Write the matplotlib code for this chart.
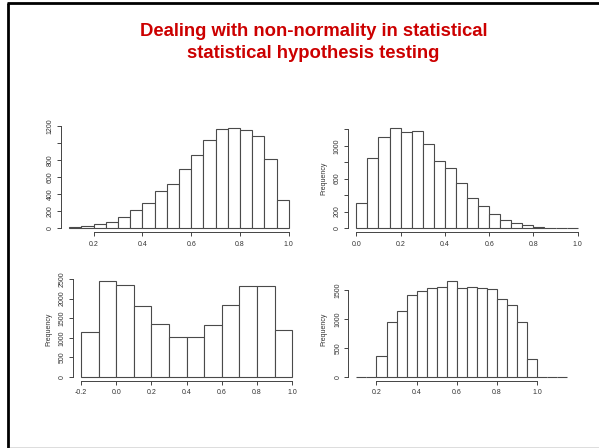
import numpy as np
import matplotlib
matplotlib.use("Agg")
import matplotlib.pyplot as plt
from matplotlib.lines import Line2D

plt.rcParams['font.family'] = ['Liberation Sans', 'DejaVu Sans']

# ---------------- data ----------------
title_lines = ["Dealing with non-normality in statistical",
               "statistical hypothesis testing"]

# Panel 1 (top-left): left-skewed
edges1 = np.round(np.arange(0.10, 1.0001, 0.05), 2)
counts1 = [8, 20, 43, 75, 130, 213, 300, 442, 525, 699, 864, 1038,
           1164, 1176, 1156, 1081, 809, 335]

# Panel 2 (top-right): right-skewed
edges2 = np.round(np.arange(0.0, 1.0001, 0.05), 2)
counts2 = [309, 846, 1106, 1211, 1171, 1175, 1024, 817, 736, 545, 370,
           272, 175, 98, 61, 33, 8, 4, 2, 1]

# Panel 3 (bottom-left): bimodal
edges3 = np.round(np.arange(-0.2, 1.0001, 0.1), 2)
counts3 = [1135, 2440, 2346, 1817, 1339, 1007, 1007, 1314, 1825, 2329,
           2329, 1194]

# Panel 4 (bottom-right): platykurtic
edges4 = np.round(np.arange(0.10, 1.1501, 0.05), 2)
counts4 = [0, 5, 363, 941, 1131, 1408, 1477, 1529, 1546, 1650, 1529,
           1546, 1529, 1517, 1350, 1235, 941, 317, 8, 0, 0]

ylabel = "Frequency"

# tick definitions: (x ticks, x labels, y ticks, y labels shown)
xt1 = [0.2, 0.4, 0.6, 0.8, 1.0]
xl1 = ["0.2", "0.4", "0.6", "0.8", "1.0"]
yt1 = [0, 200, 400, 600, 800, 1000, 1200]
yl1 = ["0", "200", "400", "600", "800", "", "1200"]

xt2 = [0.0, 0.2, 0.4, 0.6, 0.8, 1.0]
xl2 = ["0.0", "0.2", "0.4", "0.6", "0.8", "1.0"]
yt2 = [0, 200, 400, 600, 800, 1000, 1200]
yl2 = ["0", "200", "", "600", "", "1000", ""]

xt3 = [-0.2, 0.0, 0.2, 0.4, 0.6, 0.8, 1.0]
xl3 = ["-0.2", "0.0", "0.2", "0.4", "0.6", "0.8", "1.0"]
yt3 = [0, 500, 1000, 1500, 2000, 2500]
yl3 = ["0", "500", "1000", "1500", "2000", "2500"]

xt4 = [0.2, 0.4, 0.6, 0.8, 1.0]
xl4 = ["0.2", "0.4", "0.6", "0.8", "1.0"]
yt4 = [0, 500, 1000, 1500]
yl4 = ["0", "500", "1000", "1500"]

# ---------------- figure ----------------
W, H = 599, 448
fig = plt.figure(figsize=(W / 100, H / 100), dpi=100)
fig.patch.set_facecolor('white')

# slide frame
fig.add_artist(Line2D([8 / W, 8 / W], [0, 1 - 3 / H], transform=fig.transFigure,
                      color='black', lw=2.0, solid_capstyle='butt'))
fig.add_artist(Line2D([7 / W, 1], [1 - 3 / H, 1 - 3 / H], transform=fig.transFigure,
                      color='black', lw=2.0, solid_capstyle='butt'))
fig.add_artist(Line2D([8 / W, 1], [1 - 447.5 / H, 1 - 447.5 / H], transform=fig.transFigure,
                      color='#555555', lw=1.0, solid_capstyle='butt'))

# title
fig.text(313.3 / W, 1 - 31.7 / H, title_lines[0], ha='center', va='center',
         fontsize=13.3, fontweight='bold', color='#cc0000')
fig.text(313.3 / W, 1 - 53.3 / H, title_lines[1], ha='center', va='center',
         fontsize=13.3, fontweight='bold', color='#cc0000')


def make_axes(left, top, right, bottom):
    return fig.add_axes([left / W, 1 - bottom / H, (right - left) / W, (bottom - top) / H])


panels = [
    dict(edges=edges1, counts=counts1, box=(60.5, 124.4, 297.5, 232.0),
         xlim=(0.064, 1.036), ylim=(-47, 1223), xt=xt1, xl=xl1, yt=yt1, yl=yl1,
         ylab=None),
    dict(edges=edges2, counts=counts2, box=(347.5, 124.5, 586.5, 232.0),
         xlim=(-0.04, 1.04), ylim=(-48.4, 1259), xt=xt2, xl=xl2, yt=yt2, yl=yl2,
         ylab=ylabel),
    dict(edges=edges3, counts=counts3, box=(72.5, 277.5, 300.8, 380.8),
         xlim=(-0.248, 1.048), ylim=(-97.6, 2537.6), xt=xt3, xl=xl3, yt=yt3, yl=yl3,
         ylab=ylabel),
    dict(edges=edges4, counts=counts4, box=(348.0, 277.5, 575.5, 380.8),
         xlim=(0.058, 1.192), ylim=(-66, 1716), xt=xt4, xl=xl4, yt=yt4, yl=yl4,
         ylab=ylabel),
]

axis_col = '#444444'
for p in panels:
    ax = make_axes(*p['box'])
    e = np.asarray(p['edges'])
    ax.bar(e[:-1], p['counts'], width=np.diff(e), align='edge',
           facecolor='white', edgecolor='#4a4a4a', linewidth=0.8)
    ax.set_xlim(*p['xlim'])
    ax.set_ylim(*p['ylim'])
    for s in ['top', 'right']:
        ax.spines[s].set_visible(False)
    for s in ['left', 'bottom']:
        ax.spines[s].set_color(axis_col)
        ax.spines[s].set_linewidth(0.7)
    ax.spines['bottom'].set_bounds(p['xt'][0], p['xt'][-1])
    ax.spines['left'].set_bounds(p['yt'][0], p['yt'][-1])
    ax.set_xticks(p['xt'])
    ax.set_xticklabels(p['xl'])
    ax.set_yticks(p['yt'])
    ax.set_yticklabels(p['yl'], rotation=90, va='center')
    ax.tick_params(axis='both', direction='out', length=2.8, width=0.7,
                   color=axis_col, labelsize=5, labelcolor='#333333')
    ax.tick_params(axis='x', pad=3.4)
    ax.tick_params(axis='y', pad=2.0)
    ax.patch.set_alpha(0)
    if p['ylab']:
        ax.set_ylabel(p['ylab'], fontsize=5, color='#333333', labelpad=5)

fig.savefig('out.png', dpi=100, facecolor='white')
